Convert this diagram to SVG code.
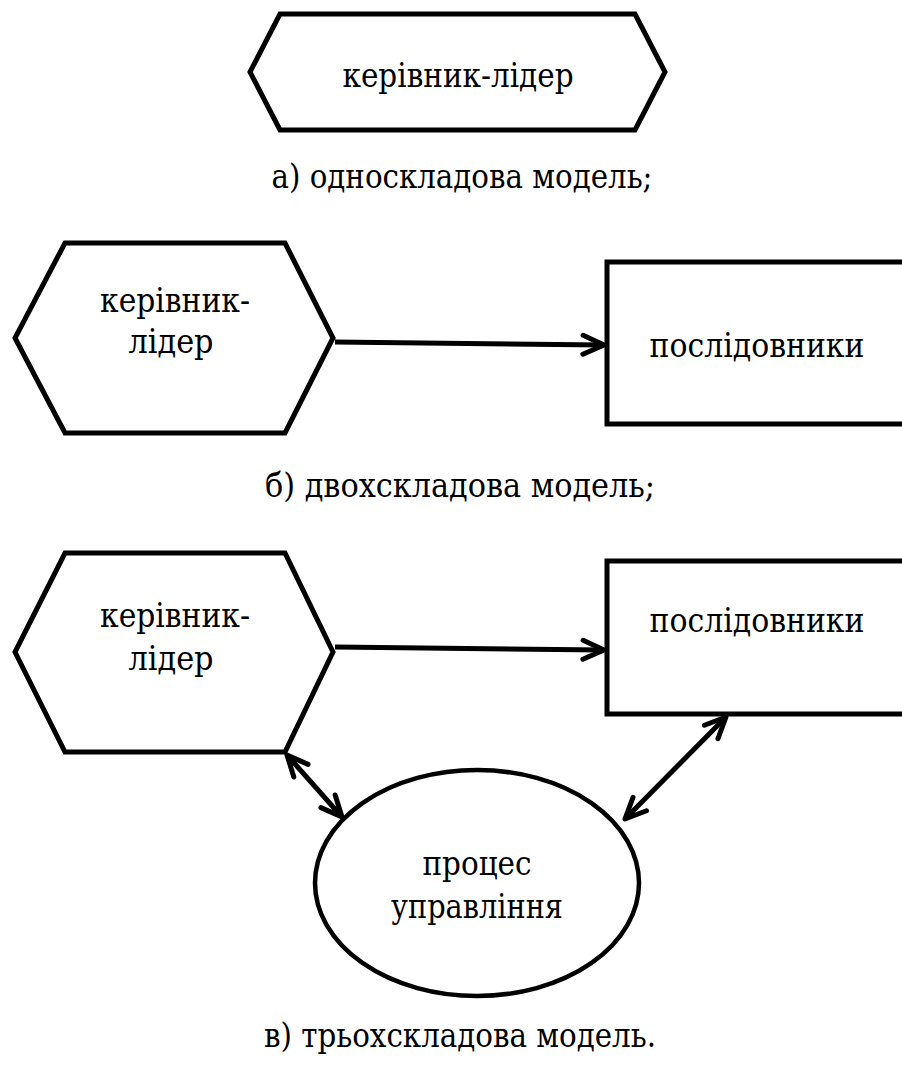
<svg xmlns="http://www.w3.org/2000/svg" width="902" height="1066" viewBox="0 0 902 1066">
<style>
.shape{fill:#fff;stroke:#000;stroke-width:5;stroke-linejoin:miter}
.ell{fill:#fff;stroke:#000;stroke-width:4.5}
.t{font-family:'DejaVu Serif Condensed','DejaVu Serif',serif;font-stretch:condensed;font-size:34px;fill:#000;text-anchor:middle}
.conn{stroke:#000;stroke-width:5;fill:none}
</style>
<defs>
<marker id="ah" viewBox="-26 -14 30 28" markerWidth="30" markerHeight="28" refX="0" refY="0" markerUnits="userSpaceOnUse" orient="auto-start-reverse" overflow="visible">
<path d="M-21,-9.5 L0,0 L-21,9.5" fill="none" stroke="#000" stroke-width="5" stroke-linecap="round" stroke-linejoin="round"/>
</marker>
</defs>
<rect width="902" height="1066" fill="#fff"/>

<g id="a-leader">
<polygon class="shape" points="280,14 635,14 665,72 635,130 280,130 250,72"/>
<text class="t" x="458" y="87" textLength="231" lengthAdjust="spacingAndGlyphs">керівник-лідер</text>
</g>
<text class="t" x="462" y="188" textLength="381" lengthAdjust="spacingAndGlyphs">а) односкладова модель;</text>

<g id="b-leader">
<polygon class="shape" points="65,243 285,243 333,338 285,433 65,433 15,338"/>
<text class="t" x="175" y="312" textLength="150" lengthAdjust="spacingAndGlyphs">керівник-</text>
<text class="t" x="171" y="353" textLength="85" lengthAdjust="spacingAndGlyphs">лідер</text>
</g>
<g id="b-followers">
<rect class="shape" x="607" y="262" width="310" height="162"/>
<text class="t" x="757" y="357" textLength="215" lengthAdjust="spacingAndGlyphs">послідовники</text>
</g>
<text class="t" x="460" y="497" textLength="390" lengthAdjust="spacingAndGlyphs">б) двохскладова модель;</text>

<g id="c-leader">
<polygon class="shape" points="65,553 285,553 333,652 285,752 65,752 15,652"/>
<text class="t" x="175" y="627" textLength="150" lengthAdjust="spacingAndGlyphs">керівник-</text>
<text class="t" x="171" y="670" textLength="85" lengthAdjust="spacingAndGlyphs">лідер</text>
</g>
<g id="c-followers">
<rect class="shape" x="607" y="561" width="310" height="153"/>
<text class="t" x="757" y="632" textLength="215" lengthAdjust="spacingAndGlyphs">послідовники</text>
</g>
<g id="c-process">
<ellipse class="ell" cx="477" cy="883" rx="162" ry="113"/>
<text class="t" x="477" y="875" textLength="109" lengthAdjust="spacingAndGlyphs">процес</text>
<text class="t" x="477" y="918" textLength="172" lengthAdjust="spacingAndGlyphs">управління</text>
</g>
<text class="t" x="460" y="1047" textLength="392" lengthAdjust="spacingAndGlyphs">в) трьохскладова модель.</text>

<g id="connectors">
<line class="conn" x1="335" y1="342" x2="604" y2="345" marker-end="url(#ah)"/>
<line class="conn" x1="335" y1="647" x2="604" y2="650" marker-end="url(#ah)"/>
<line class="conn" x1="287" y1="755" x2="342" y2="817" marker-start="url(#ah)" marker-end="url(#ah)"/>
<line class="conn" x1="726" y1="717" x2="625" y2="819" marker-start="url(#ah)" marker-end="url(#ah)"/>
</g>
</svg>
